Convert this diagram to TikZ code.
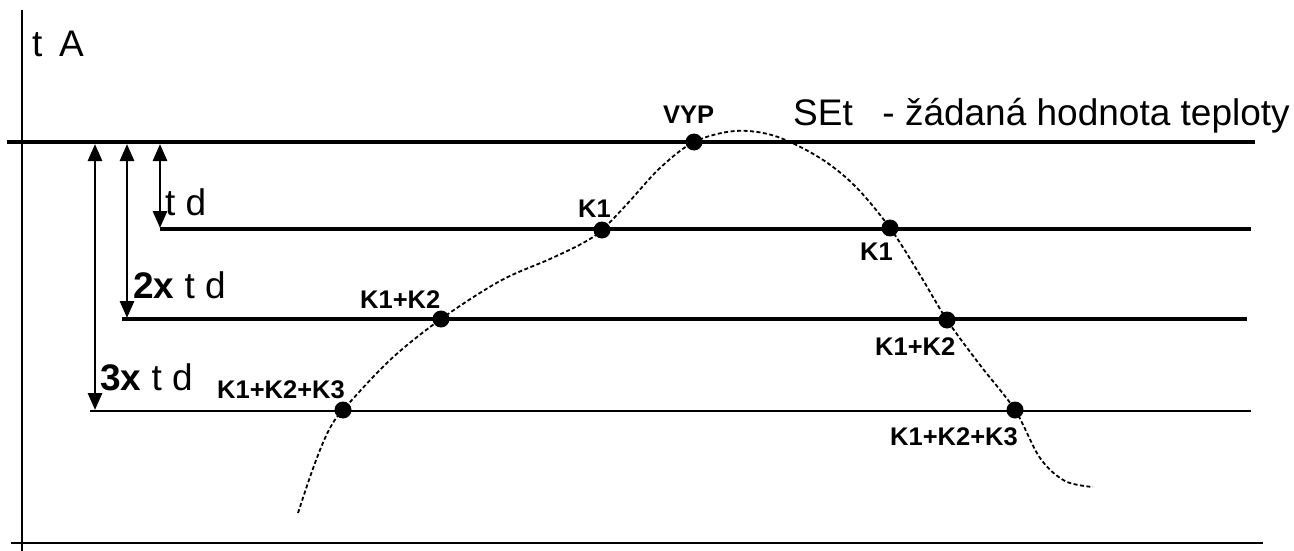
\documentclass[tikz,border=0pt]{standalone}
\usepackage{fontspec}
\setmainfont{Liberation Sans}
\usetikzlibrary{arrows.meta}
\begin{document}
\begin{tikzpicture}[x=1pt,y=-1pt,
 lbl/.style={inner sep=0pt, anchor=base west, font=\fontsize{37}{40}\selectfont},
 klbl/.style={inner sep=0pt, anchor=base west, font=\fontsize{25.5}{28}\selectfont\bfseries},
 dot/.style={circle, fill=black, inner sep=0pt, minimum size=17pt},
 thickline/.style={line width=4.5pt},
 thinline/.style={line width=2.2pt},
 dimarrow/.style={line width=2.8pt, {Triangle[length=17pt,width=14pt]}-{Triangle[length=17pt,width=14pt]}},
 curvestyle/.style={line width=1.8pt, dash pattern=on 4pt off 2.5pt}]
\useasboundingbox (0,0) rectangle (1294,551);
% axes
\coordinate (axT) at (22,10);
\coordinate (axB) at (22,551);
\coordinate (baseL) at (11,543);
\coordinate (baseR) at (1263,543);
\draw[thinline] (axT) -- (axB);
\draw[thinline] (baseL) -- (baseR);
% level lines
\coordinate (setL) at (7,142);   \coordinate (setR) at (1255,142);
\coordinate (tdL) at (160,229);  \coordinate (tdR) at (1251,229);
\coordinate (tdtL) at (122,319); \coordinate (tdtR) at (1247,319);
\coordinate (tdhL) at (90,411);  \coordinate (tdhR) at (1251,411);
\draw[thickline] (setL) -- (setR);
\draw[thickline] (tdL) -- (tdR);
\draw[thickline] (tdtL) -- (tdtR);
\draw[thinline] (tdhL) -- (tdhR);
% dimension arrows
\coordinate (a1t) at (160,144); \coordinate (a1b) at (160,228);
\coordinate (a2t) at (127,144); \coordinate (a2b) at (127,318);
\coordinate (a3t) at (95,144);  \coordinate (a3b) at (95,410);
\draw[dimarrow] (a1t) -- (a1b);
\draw[dimarrow] (a2t) -- (a2b);
\draw[dimarrow] (a3t) -- (a3b);
% labels
\node[lbl] (tA) at (32,57) {t\hspace{0.45em}A};
\node[lbl] (td1) at (165,215) {t d};
\node[lbl] (td2) at (133,298) {\textbf{2x} t d};
\node[lbl] (td3) at (100,390) {\textbf{3x} t d};
\node[lbl] (set) at (793,125) {SEt\hspace{0.8em}- žádaná hodnota teploty};
% curve
\draw[curvestyle] plot[smooth, tension=0.55] coordinates {
 (298,513) (310,477) (320,450) (330,428) (343,410) (390,360) (441,319)
 (500,281) (550,259) (583,243) (602,230) (628,203) (660,168) (694,142)
 (735,131) (775,136) (820,158) (855,186) (890,228) (920,275) (947,320)
 (980,365) (1015,410) (1040,458) (1065,481) (1093,487)};
% dots
\node[dot] (vyp) at (694,142) {};
\node[dot] (k1l) at (602,230) {};
\node[dot] (k1r) at (890,228) {};
\node[dot] (k12l) at (441,319) {};
\node[dot] (k12r) at (947,320) {};
\node[dot] (k123l) at (343,410) {};
\node[dot] (k123r) at (1015,410) {};
% point labels
\node[klbl] (lvyp) at (663,123) {VYP};
\node[klbl] (lk1l) at (578,217) {K1};
\node[klbl] (lk1r) at (860,260) {K1};
\node[klbl] (lk12l) at (360,308) {K1+K2};
\node[klbl] (lk12r) at (875,355) {K1+K2};
\node[klbl] (lk123l) at (217,398) {K1+K2+K3};
\node[klbl] (lk123r) at (890,445) {K1+K2+K3};
\end{tikzpicture}
\end{document}
